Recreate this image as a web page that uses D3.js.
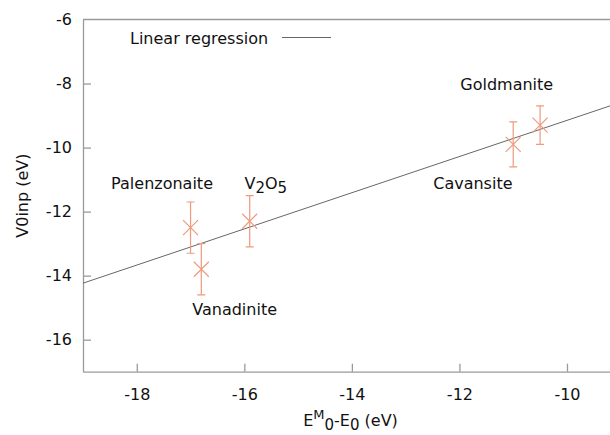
<!DOCTYPE html>
<html>
<head>
<meta charset="utf-8">
<script src="https://cdn.jsdelivr.net/npm/d3@7"></script>
<style>
  body { margin: 0; background: #fff; }
  svg text { font-family: "DejaVu Sans", Verdana, sans-serif; fill: #111; }
</style>
</head>
<body>
<svg id="chart" width="610" height="435"></svg>
<script>
// minerals and their measured values
var names = ["Palenzonaite", "Vanadinite", "V2O5", "Cavansite", "Goldmanite"];
var xVals = [-17.0, -16.8, -15.9, -11.0, -10.5];
var yVals = [-12.5, -13.8, -12.3, -9.9, -9.3];
var yErr = [0.8, 0.8, 0.8, 0.7, 0.6];
// label anchor for each mineral (data coords)
var labelX = [-17.53, -16.18, -15.6, -11.75, -11.12];
var labelY = [-11.28, -15.22, -11.3, -11.3, -8.2];

var xTicks = [-18, -16, -14, -12, -10];
var yTicks = [-16, -14, -12, -10, -8, -6];

// linear regression y = slope * x + intercept
var regSlope = 0.565;
var regIntercept = -3.5;

var svg = d3.select("#chart");
var mLeft = 83, mRight = 610, mTop = 19.5, mBottom = 371.7;
var fs = 16;

var x = d3.scaleLinear().domain([-19, -9.2]).range([mLeft, mRight]);
var y = d3.scaleLinear().domain([-17, -6]).range([mBottom, mTop]);

var axisColor = "#9a9a9a";
var markColor = "#ee9a7c";

svg.append("clipPath").attr("id", "clip")
  .append("rect")
  .attr("x", mLeft).attr("y", mTop)
  .attr("width", mRight - mLeft).attr("height", mBottom - mTop);

// axes
var gx = svg.append("g").attr("transform", "translate(0," + mBottom + ")")
  .call(d3.axisBottom(x).tickValues(xTicks).tickSizeInner(-8).tickSizeOuter(0).tickPadding(17)
    .tickFormat(function(d) { return d.toString(); }));
var gy = svg.append("g").attr("transform", "translate(" + mLeft + ",0)")
  .call(d3.axisLeft(y).tickValues(yTicks).tickSizeInner(-8).tickSizeOuter(0).tickPadding(11)
    .tickFormat(function(d) { return d.toString(); }));

[gx, gy].forEach(function(g) {
  g.select(".domain").attr("stroke", axisColor).attr("stroke-width", 1.3);
  g.selectAll(".tick line").attr("stroke", axisColor).attr("stroke-width", 1.3);
  g.selectAll(".tick text").attr("font-size", fs);
});
gy.selectAll(".tick line").filter(function(d) { return d === -6; }).remove();

// top border
svg.append("line")
  .attr("x1", mLeft).attr("x2", mRight)
  .attr("y1", mTop).attr("y2", mTop)
  .attr("stroke", axisColor).attr("stroke-width", 1.3);

var plot = svg.append("g").attr("clip-path", "url(#clip)");

// regression line
var xd = x.domain();
plot.append("line")
  .attr("x1", x(xd[0])).attr("y1", y(regSlope * xd[0] + regIntercept))
  .attr("x2", x(xd[1])).attr("y2", y(regSlope * xd[1] + regIntercept))
  .attr("stroke", "#555").attr("stroke-width", 0.9);

// error bars and markers
var pts = plot.selectAll("g.pt").data(d3.range(names.length)).enter()
  .append("g").attr("class", "pt")
  .attr("stroke", markColor).attr("stroke-width", 1.2).attr("fill", "none");

pts.append("line")
  .attr("x1", function(i) { return x(xVals[i]); })
  .attr("x2", function(i) { return x(xVals[i]); })
  .attr("y1", function(i) { return y(yVals[i] + yErr[i]); })
  .attr("y2", function(i) { return y(yVals[i] - yErr[i]); });
[1, -1].forEach(function(s) {
  pts.append("line")
    .attr("x1", function(i) { return x(xVals[i]) - 4; })
    .attr("x2", function(i) { return x(xVals[i]) + 4; })
    .attr("y1", function(i) { return y(yVals[i] + s * yErr[i]); })
    .attr("y2", function(i) { return y(yVals[i] + s * yErr[i]); });
});
pts.append("path")
  .attr("d", function(i) {
    var cx = x(xVals[i]), cy = y(yVals[i]), r = 7.5;
    return "M" + (cx - r) + "," + (cy - r) + "L" + (cx + r) + "," + (cy + r) +
      "M" + (cx - r) + "," + (cy + r) + "L" + (cx + r) + "," + (cy - r);
  });

// labels
var labels = svg.selectAll("text.lbl").data(d3.range(names.length)).enter()
  .append("text").attr("class", "lbl")
  .attr("x", function(i) { return x(labelX[i]); })
  .attr("y", function(i) { return y(labelY[i]); })
  .attr("text-anchor", "middle")
  .attr("font-size", fs);
labels.each(function(i) {
  var t = d3.select(this);
  if (names[i] === "V2O5") {
    t.append("tspan").text("V");
    t.append("tspan").attr("dy", 4).attr("font-size", 15).text("2");
    t.append("tspan").attr("dy", -4).text("O");
    t.append("tspan").attr("dy", 4).attr("font-size", 15).text("5");
  } else {
    t.text(names[i]);
  }
});

// legend
svg.append("text")
  .attr("x", 130).attr("y", 43.5)
  .attr("font-size", fs)
  .text("Linear regression");
svg.append("line")
  .attr("x1", 282).attr("x2", 331)
  .attr("y1", 37.5).attr("y2", 37.5)
  .attr("stroke", "#555").attr("stroke-width", 0.9);

// axis titles
var xt = svg.append("text")
  .attr("x", (mLeft + mRight) / 2 + 4).attr("y", 426)
  .attr("text-anchor", "middle")
  .attr("font-size", fs);
xt.append("tspan").text("E");
xt.append("tspan").attr("dy", -7).attr("font-size", 13).text("M");
xt.append("tspan").attr("dy", 11).attr("font-size", 15).text("0");
xt.append("tspan").attr("dy", -4).text("-E");
xt.append("tspan").attr("dy", 4).attr("font-size", 15).text("0");
xt.append("tspan").attr("dy", -4).text(" (eV)");

svg.append("text")
  .attr("transform", "translate(28," + ((mTop + mBottom) / 2) + ") rotate(-90)")
  .attr("text-anchor", "middle")
  .attr("font-size", fs)
  .text("V0inp (eV)");
</script>
</body>
</html>
